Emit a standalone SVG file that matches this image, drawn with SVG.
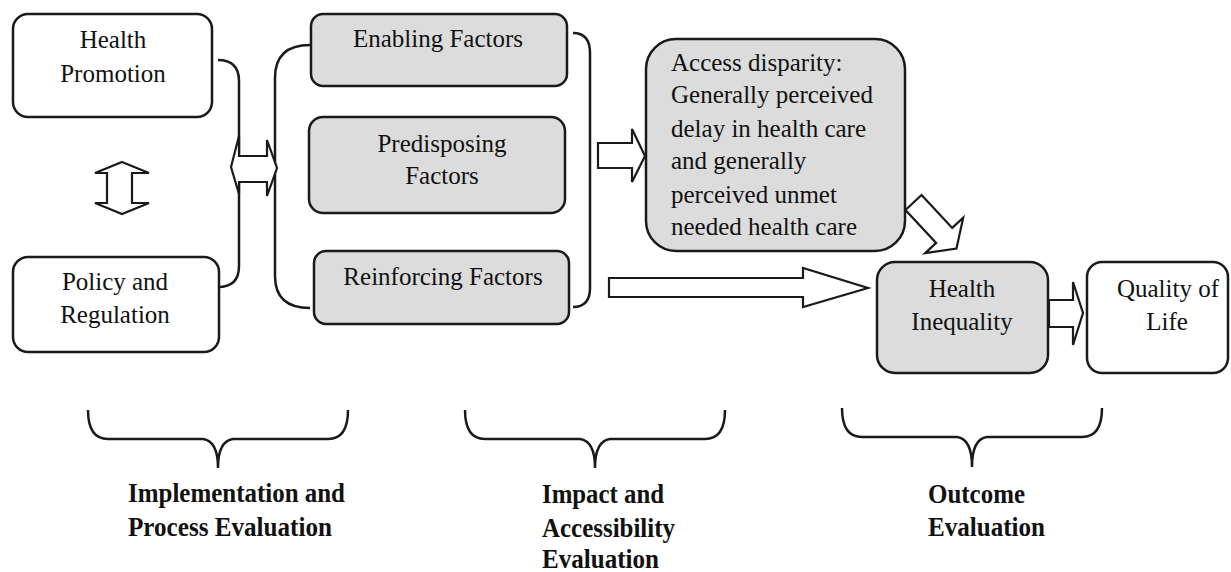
<svg xmlns="http://www.w3.org/2000/svg" width="1231" height="572" viewBox="0 0 1231 572">
<style>
.box{fill:#ffffff;stroke:#1a1a1a;stroke-width:2.5}
.gbox{fill:#dcdcdc;stroke:#1a1a1a;stroke-width:2.5}
.t{font-family:"Liberation Serif","Times New Roman",serif;font-size:25px;fill:#111}
.c{text-anchor:middle}
.b{font-family:"Liberation Serif","Times New Roman",serif;font-size:27px;font-weight:bold;fill:#111}
.arr{fill:#ffffff;stroke:#1a1a1a;stroke-width:2.2;stroke-linejoin:miter}
.br{fill:none;stroke:#1a1a1a;stroke-width:2.5}
</style>
<rect width="1231" height="572" fill="#ffffff"/>

<g id="connectors">
  <path class="br" d="M218,60 Q239,60 239,81 L239,266 Q239,287 218,287"/>
  <path class="br" d="M310,45 Q275,45 275,78 L275,276 Q275,308 310,308"/>
  <path class="br" d="M573,33 Q590,33 590,53 L590,288 Q590,307 573,307"/>
  <polygon class="arr" points="231,167 239,136 239,156 267,156 267,140 277,168 267,196 267,182 239,182 239,194"/>
  <polygon class="arr" points="122,162 149,173 132,173 132,203 149,203 122,214 95,203 107,203 107,173 95,173"/>
  <polygon class="arr" points="598,143 632,143 632,129 645,156 632,182 632,168 598,168"/>
  <polygon class="arr" points="609,278 803,278 803,268 868,288 803,307 803,297 609,297"/>
  <polygon class="arr" points="1049,300 1073,300 1073,282 1083,313 1073,345 1073,327 1049,327"/>
  <polygon class="arr" transform="translate(913.5,202.5) rotate(47)" points="0,-11 45,-11 45,-26 63,0 45,26 45,11 0,11"/>
  <path class="br" d="M88,410 Q88,439 108,439 L203,439 Q218,441 218,468 Q218,441 233,439 L328,439 Q348,439 348,410"/>
  <path class="br" d="M465,410 Q465,439 485,439 L580,439 Q595,441 595,468 Q595,441 610,439 L705,439 Q725,439 725,410"/>
  <path class="br" d="M842,408 Q842,437 862,437 L957,437 Q972,439 972,467 Q972,439 987,437 L1082,437 Q1102,437 1102,408"/>
</g>

<g id="health-promotion">
  <rect class="box" x="13" y="14" width="199" height="103" rx="15"/>
  <text class="t c" x="113" y="48">Health</text>
  <text class="t c" x="113" y="82">Promotion</text>
</g>
<g id="policy-regulation">
  <rect class="box" x="13" y="257" width="206" height="95" rx="15"/>
  <text class="t c" x="115" y="290">Policy and</text>
  <text class="t c" x="115" y="323">Regulation</text>
</g>
<g id="enabling">
  <rect class="gbox" x="311" y="14" width="256" height="72" rx="12"/>
  <text class="t c" x="438" y="47">Enabling Factors</text>
</g>
<g id="predisposing">
  <rect class="gbox" x="309" y="117" width="256" height="96" rx="14"/>
  <text class="t c" x="442" y="152">Predisposing</text>
  <text class="t c" x="442" y="184">Factors</text>
</g>
<g id="reinforcing">
  <rect class="gbox" x="314" y="251" width="255" height="73" rx="12"/>
  <text class="t c" x="443" y="285">Reinforcing Factors</text>
</g>
<g id="access-disparity">
  <rect class="gbox" x="646" y="39" width="259" height="212" rx="30"/>
  <text class="t" x="671" y="71">Access disparity:</text>
  <text class="t" x="671" y="103">Generally perceived</text>
  <text class="t" x="671" y="137">delay in health care</text>
  <text class="t" x="671" y="169">and generally</text>
  <text class="t" x="671" y="203">perceived unmet</text>
  <text class="t" x="671" y="235">needed health care</text>
</g>
<g id="health-inequality">
  <rect class="gbox" x="877" y="262" width="171" height="111" rx="18"/>
  <text class="t c" x="962" y="297">Health</text>
  <text class="t c" x="962" y="330">Inequality</text>
</g>
<g id="quality-of-life">
  <rect class="box" x="1087" y="262" width="141" height="111" rx="15"/>
  <text class="t c" x="1168" y="297">Quality of</text>
  <text class="t c" x="1167" y="330">Life</text>
</g>

<g id="label-implementation">
  <text class="b" x="128" y="502" textLength="217" lengthAdjust="spacingAndGlyphs">Implementation and</text>
  <text class="b" x="128" y="536" textLength="204" lengthAdjust="spacingAndGlyphs">Process Evaluation</text>
</g>
<g id="label-impact">
  <text class="b" x="542" y="503" textLength="122" lengthAdjust="spacingAndGlyphs">Impact and</text>
  <text class="b" x="542" y="537" textLength="133" lengthAdjust="spacingAndGlyphs">Accessibility</text>
  <text class="b" x="542" y="568" textLength="117" lengthAdjust="spacingAndGlyphs">Evaluation</text>
</g>
<g id="label-outcome">
  <text class="b" x="928" y="503" textLength="97" lengthAdjust="spacingAndGlyphs">Outcome</text>
  <text class="b" x="928" y="536" textLength="117" lengthAdjust="spacingAndGlyphs">Evaluation</text>
</g>
</svg>
